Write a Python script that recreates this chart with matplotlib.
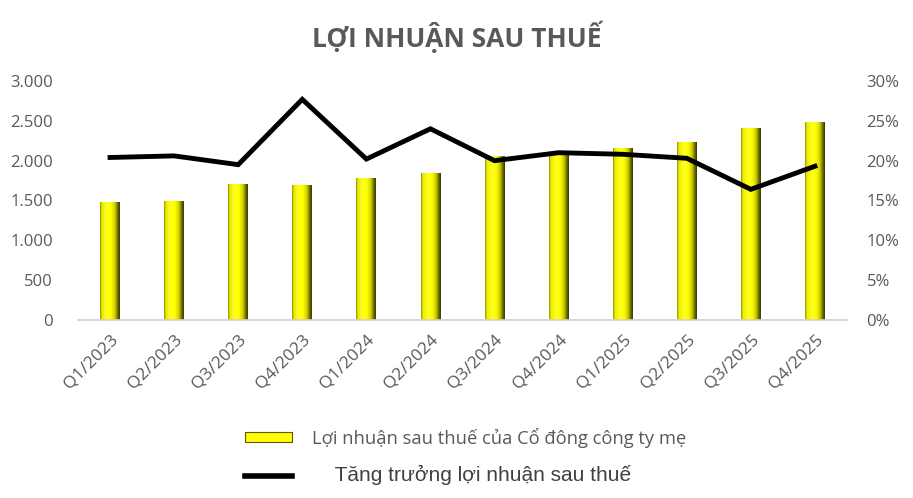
import matplotlib.pyplot as plt
import matplotlib.ticker as mticker
from matplotlib.colors import LinearSegmentedColormap
from matplotlib.lines import Line2D
from matplotlib.patches import Patch
import numpy as np

# Data
quarters = ['Q1/2023', 'Q2/2023', 'Q3/2023', 'Q4/2023',
            'Q1/2024', 'Q2/2024', 'Q3/2024', 'Q4/2024',
            'Q1/2025', 'Q2/2025', 'Q3/2025', 'Q4/2025']
profit = [1480, 1490, 1710, 1700, 1780, 1850, 2060, 2070, 2155, 2230, 2405, 2480]
growth = [20.4, 20.6, 19.5, 27.7, 20.2, 24.0, 20.0, 21.0, 20.8, 20.3, 16.4, 19.3]

left_ticks = [0, 500, 1000, 1500, 2000, 2500, 3000]
right_ticks = [0, 5, 10, 15, 20, 25, 30]

grey = '#595959'
plt.rcParams['font.family'] = ['Open Sans', 'DejaVu Sans']

fig = plt.figure(figsize=(9.13, 4.98), dpi=100)
ax = fig.add_axes([78 / 913, 178 / 498, 769 / 913, 239 / 498])
ax2 = ax.twinx()

x = np.arange(len(quarters))
bars = ax.bar(x, profit, width=0.31, color='#FFFF00', edgecolor='none', zorder=2)

# bevelled look: horizontal gradient clipped to every bar
bevel = LinearSegmentedColormap.from_list(
    'bevel', [(0.0, '#8c8c00'), (0.08, '#e6e600'), (0.3, '#FFFF20'),
              (0.55, '#FFFF00'), (0.75, '#d0d000'), (0.9, '#6a6a00'),
              (1.0, '#3a3a00')])
grad = np.linspace(0, 1, 64).reshape(1, -1)
for b in bars:
    im = ax.imshow(grad, cmap=bevel, aspect='auto', zorder=2.5,
                   extent=[b.get_x(), b.get_x() + b.get_width(), 0, b.get_height()])
    im.set_clip_path(b)

ax.set_xlim(-0.5, len(quarters) - 0.5)
ax.set_ylim(0, 3000)
ax.set_yticks(left_ticks)
ax.yaxis.set_major_formatter(
    mticker.FuncFormatter(lambda v, p: f'{int(v):,}'.replace(',', '.')))

ax2.plot(x, growth, color='black', linewidth=3.5, solid_joinstyle='miter', zorder=3)
ax2.set_ylim(0, 30)
ax2.set_yticks(right_ticks)
ax2.yaxis.set_major_formatter(mticker.FuncFormatter(lambda v, p: f'{int(v)}%'))

ax.set_xticks(x)
ax.set_xticklabels(quarters, rotation=45, ha='right', rotation_mode='anchor')

for a in (ax, ax2):
    for s in a.spines.values():
        s.set_visible(False)
    a.tick_params(length=0, colors=grey, labelsize=12)
ax.tick_params(axis='x', labelsize=12.5)
ax.spines['bottom'].set_visible(True)
ax.spines['bottom'].set_color('#d0d0d0')
ax.spines['bottom'].set_linewidth(1.2)
ax.tick_params(axis='x', pad=8)
ax.tick_params(axis='y', pad=18)
ax2.tick_params(axis='y', pad=14)

fig.text(0.5, 0.925, 'LỢI NHUẬN SAU THUẾ', ha='center', va='center',
         fontsize=19, fontweight='bold', color=grey, fontstretch='condensed')

handles = [Patch(facecolor='#FFFF00', edgecolor='#5a5a00', linewidth=0.8),
           Line2D([0], [0], color='black', linewidth=4)]
labels = ['Lợi nhuận sau thuế của Cổ đông công ty mẹ',
          '    Tăng trưởng lợi nhuận sau thuế']
leg = fig.legend(handles, labels, loc='center', bbox_to_anchor=(0.51, 0.083),
                 frameon=False, fontsize=13.2, handlelength=2.55, handleheight=0.45,
                 labelspacing=0.95, handletextpad=1.1, labelcolor=grey)
leg.get_texts()[1].set_family(['Liberation Sans', 'DejaVu Sans'])
leg.get_texts()[1].set_fontsize(15)
leg.get_texts()[1].set_color('#404040')

fig.savefig('out.png', dpi=100)
